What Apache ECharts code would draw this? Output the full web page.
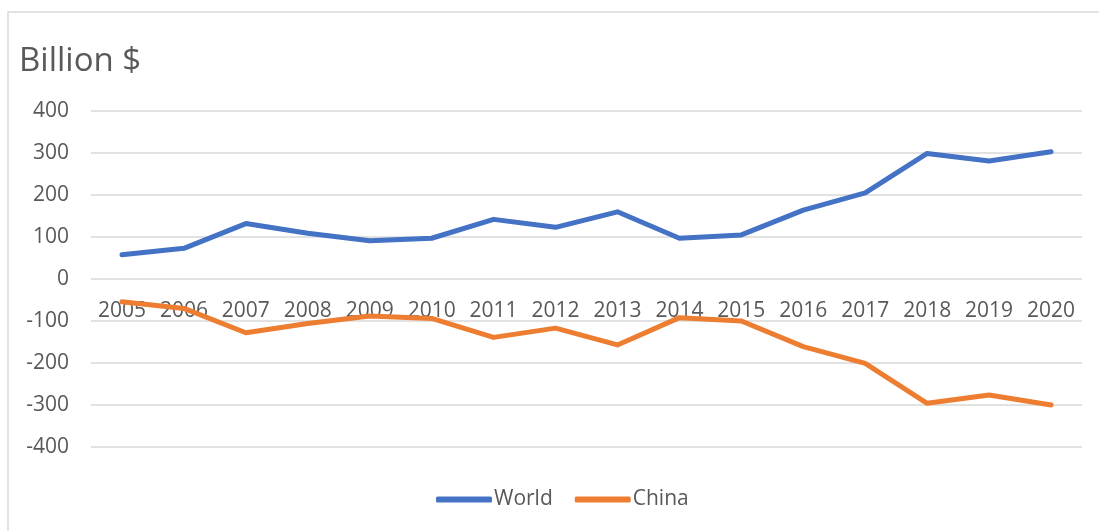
<!DOCTYPE html>
<html>
<head>
<meta charset="utf-8">
<style>
  html, body { margin: 0; padding: 0; background: #fff; }
  #chart { width: 1099px; height: 531px; }
</style>
<script src="https://cdn.jsdelivr.net/npm/echarts@6/dist/echarts.min.js"></script>
</head>
<body>
<div id="chart"></div>
<script>
// Annual values, billion dollars
const years = ['2005','2006','2007','2008','2009','2010','2011','2012','2013','2014','2015','2016','2017','2018','2019','2020'];
const world = [58, 73, 132, 109, 91, 97, 142, 123, 160, 97, 105, 164, 205, 299, 281, 303];
const china = [-54, -70, -128, -106, -88, -94, -139, -117, -157, -92, -100, -161, -201, -296, -276, -300];
const seriesNames = ['World', 'China'];

const FONT = '"Open Sans", "Noto Sans", sans-serif';
const TEXT = '#595959';
const GRID = '#d9d9d9';

// Plot area geometry; the category axis sits on the zero line (middle of a symmetric range)
const GRID_TOP = 111;
const GRID_BOTTOM = 84;
const CHART_H = 531;
const plotHeight = CHART_H - GRID_TOP - GRID_BOTTOM;

const chart = echarts.init(document.getElementById('chart'), null, { renderer: 'canvas' });

chart.setOption({
  animation: false,
  backgroundColor: '#fff',
  textStyle: { fontFamily: FONT },
  graphic: [
    {
      type: 'rect',
      shape: { x: 8, y: 12, width: 1120, height: 560 },
      style: { fill: 'none', stroke: GRID, lineWidth: 1.5 },
      silent: true,
      z: -1
    }
  ],
  title: {
    text: 'Billion $',
    left: 14,
    top: 40,
    textStyle: { fontFamily: FONT, fontSize: 33, fontWeight: 'normal', color: TEXT }
  },
  legend: {
    data: seriesNames,
    bottom: 16,
    left: 431,
    itemWidth: 56,
    itemHeight: 6,
    itemGap: 22,
    icon: 'roundRect',
    textStyle: { fontFamily: FONT, fontSize: 21, color: TEXT, padding: [0, 0, 0, -3] }
  },
  grid: { left: 91, right: 17, top: GRID_TOP, bottom: GRID_BOTTOM, containLabel: false },
  xAxis: {
    type: 'category',
    data: years,
    boundaryGap: true,
    offset: -plotHeight / 2,
    axisLine: { show: false, onZero: false },
    axisTick: { show: false },
    axisLabel: { fontFamily: FONT, fontSize: 21, color: TEXT, margin: 22, interval: 0 }
  },
  yAxis: {
    type: 'value',
    min: -400,
    max: 400,
    interval: 100,
    axisLine: { show: false },
    axisTick: { show: false },
    splitLine: { lineStyle: { color: GRID, width: 1.5 } },
    axisLabel: { fontFamily: FONT, fontSize: 21, color: TEXT, margin: 22 }
  },
  series: [
    {
      name: seriesNames[0],
      type: 'line',
      data: world,
      symbol: 'none',
      lineStyle: { color: '#4472C4', width: 5, cap: 'round', join: 'round' },
      itemStyle: { color: '#4472C4' }
    },
    {
      name: seriesNames[1],
      type: 'line',
      data: china,
      symbol: 'none',
      lineStyle: { color: '#ED7D31', width: 5, cap: 'round', join: 'round' },
      itemStyle: { color: '#ED7D31' }
    }
  ]
});
</script>
</body>
</html>
